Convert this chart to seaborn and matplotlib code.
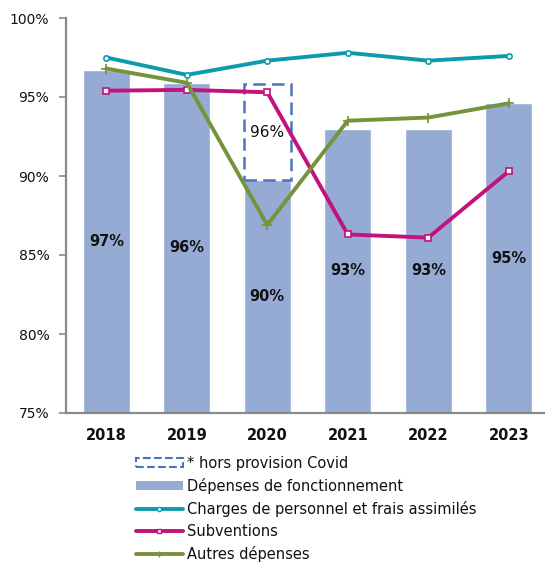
import matplotlib
matplotlib.use("Agg")
import matplotlib.pyplot as plt
import seaborn as sns
import pandas as pd
import numpy as np
from matplotlib.patches import Patch
from matplotlib.lines import Line2D

# valeurs (en %)
years = ["2018", "2019", "2020", "2021", "2022", "2023"]
depenses_fonct = [96.7, 95.9, 89.75, 93.0, 93.0, 94.6]
hors_covid_year = "2020"
hors_covid_value = 95.8
charges_personnel = [97.5, 96.4, 97.3, 97.8, 97.3, 97.6]
subventions = [95.4, 95.45, 95.3, 86.3, 86.1, 90.3]
autres_depenses = [96.8, 95.9, 86.9, 93.5, 93.7, 94.6]
y_ticks = [75, 80, 85, 90, 95, 100]

legend_labels = ["* hors provision Covid", "Dépenses de fonctionnement",
                 "Charges de personnel et frais assimilés", "Subventions",
                 "Autres dépenses"]

bar_col = "#95ABD4"
box_col = "#4A72C0"
teal = "#0A9CAE"
magenta = "#C2127C"
olive = "#76923A"
axis_col = "#8A8A8A"

sns.set_theme(style="white")
plt.rcParams["font.family"] = ["DejaVu Sans"]
plt.rcParams["text.color"] = "#111111"

fig = plt.figure(figsize=(5.45, 5.63), dpi=100)
ax = fig.add_axes([66/545, 150/563, 479/545, 395/563])

df = pd.DataFrame({"annee": years, "valeur": depenses_fonct})
sns.barplot(data=df, x="annee", y="valeur", color=bar_col, saturation=1,
            width=0.585, ax=ax, zorder=2)
bars = ax.containers[0]
ax.bar_label(bars, labels=[f"{v:.0f}%" for v in depenses_fonct],
             label_type="center", fontweight="bold", fontsize=10.5, color="#111111")

# cadre pointillé hors provision covid
i = years.index(hors_covid_year)
ax.bar(i, hors_covid_value - depenses_fonct[i], bottom=depenses_fonct[i],
       width=0.585, fill=False, edgecolor=box_col, linestyle=(0, (5, 2.5)),
       linewidth=1.8, zorder=3)
ax.text(i, (hors_covid_value + depenses_fonct[i]) / 2, f"{hors_covid_value:.0f}%",
        ha="center", va="center", fontsize=11, color="#111111", zorder=4)

series = [(charges_personnel, teal, "o", 3.8),
          (subventions, magenta, "s", 3.8),
          (autres_depenses, olive, "+", 6.5)]
for vals, col, mk, ms in series:
    sns.pointplot(x=years, y=vals, color=col, markers=mk, markersize=ms,
                  linewidth=2.8, markerfacecolor="white", markeredgewidth=1.2,
                  errorbar=None, ax=ax, zorder=5)

ax.set_ylim(75, 100)
ax.set_xlim(-0.5, 5.45)
ax.set_yticks(y_ticks)
ax.set_yticklabels([f"{t}%" for t in y_ticks], fontsize=10, color="#111111")
ax.set_xticks(range(len(years)))
ax.set_xticklabels(years, fontweight="bold", fontsize=10.5, color="#111111")
ax.set_xticks(np.arange(0.5, len(years) - 1, 1), minor=True)
ax.tick_params(axis="x", which="major", length=0, pad=11)
ax.tick_params(axis="x", which="minor", length=5, width=1.2, color=axis_col, direction="out")
ax.tick_params(axis="y", length=5, width=1.2, color=axis_col, direction="out", pad=7, left=True)
ax.set_xlabel("")
ax.set_ylabel("")
sns.despine(ax=ax)
for s in ["left", "bottom"]:
    ax.spines[s].set_color(axis_col)
    ax.spines[s].set_linewidth(1.6)

handles = [Patch(facecolor="white", edgecolor=box_col, linestyle="--", linewidth=1.5),
           Patch(facecolor=bar_col, edgecolor="none"),
           Line2D([], [], color=teal, lw=2.8, marker="o", ms=3, mfc="white"),
           Line2D([], [], color=magenta, lw=2.8, marker="s", ms=3, mfc="white"),
           Line2D([], [], color=olive, lw=2.8, marker="+", ms=5)]
fig.legend(handles, legend_labels, loc="upper left",
           bbox_to_anchor=(136/545, 1 - 456/563), frameon=False, fontsize=10.5,
           handlelength=3.2, handletextpad=0.3, labelspacing=0.48,
           borderaxespad=0, borderpad=0, handleheight=0.6)

fig.savefig("out.png", dpi=100)
